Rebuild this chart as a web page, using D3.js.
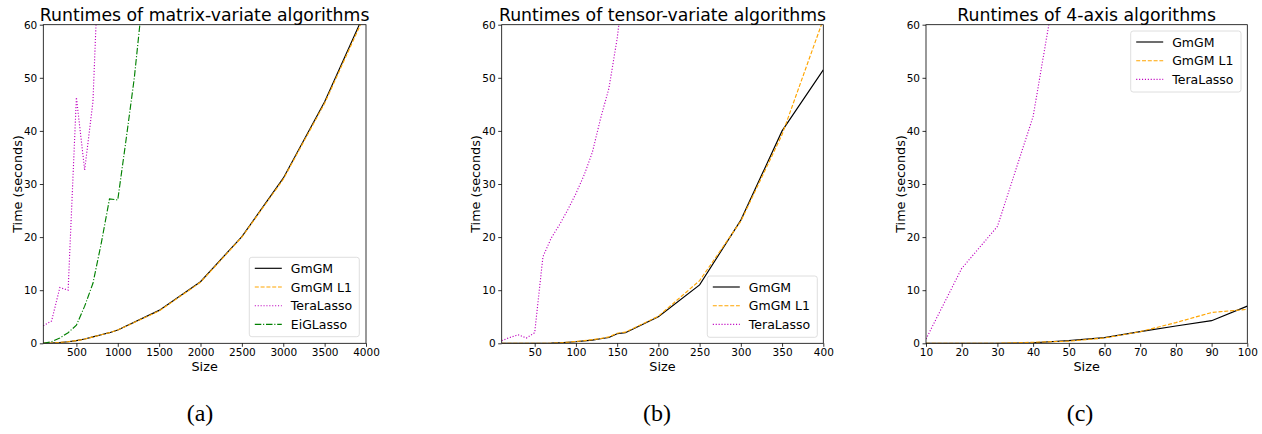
<!DOCTYPE html>
<html><head><meta charset="utf-8">
<script src="https://cdn.jsdelivr.net/npm/d3@7"></script>
<style>body{margin:0;background:#fff}svg{display:block}text{font-family:"DejaVu Sans",sans-serif}</style>
</head><body>
<svg id="c" width="1262" height="434"></svg>
<script>
// ---------- data ----------
const titles = ["Runtimes of matrix-variate algorithms","Runtimes of tensor-variate algorithms","Runtimes of 4-axis algorithms"];
const captions = ["(a)","(b)","(c)"];
const yTicks = [0,10,20,30,40,50,60];
const xTicksA = [500,1000,1500,2000,2500,3000,3500,4000];
const xTicksB = [50,100,150,200,250,300,350,400];
const xTicksC = [10,20,30,40,50,60,70,80,90,100];

// panel (a)
const aGmGMx = [100,200,300,400,500,600,700,800,900,1000,1500,2000,2500,3000,3500,4000];
const aGmGMy = [0,0.05,0.15,0.3,0.5,0.8,1.2,1.6,2.0,2.5,6.2,11.6,20.1,31.1,45.5,62.8];
const aL1y   = [0,0.05,0.15,0.3,0.5,0.8,1.2,1.6,2.0,2.5,6.1,11.5,20.0,30.9,45.2,62.3];
const aTeraX = [100,200,300,400,500,600,700,800];
const aTeraY = [3.3,4.2,10.5,10.0,46.3,32.6,45.5,85];
const aEigX  = [100,200,300,400,500,600,700,800,900,1000,1100,1200,1300];
const aEigY  = [0,0.3,1.0,2.0,3.4,7.0,11.3,18.8,27.2,27.0,38.3,50,65];

// panel (b)
const bX     = [10,20,30,40,50,60,70,80,90,100,110,120,130,140,150,160,200,250,300,350,400];
const bGmGMy = [0,0,0,0,0,0,0.02,0.1,0.2,0.3,0.45,0.6,0.85,1.1,1.8,2.0,5.0,11.0,23.2,40.0,51.5];
const bL1y   = [0,0,0,0,0,0,0.02,0.1,0.2,0.35,0.5,0.7,0.9,1.2,1.9,2.1,5.1,11.8,23.0,39.3,61.0];
const bTeraX = [10,20,30,40,50,60,70,80,90,100,110,120,130,140,150,160];
const bTeraY = [0.5,1.1,1.6,1.0,2.0,16.3,19.8,22.3,25.1,28.2,31.7,36.0,42.4,48.0,57.4,70];

// panel (c)
const cX     = [10,20,30,40,50,60,70,80,90,100];
const cGmGMy = [0,0,0,0.1,0.5,1.06,2.2,3.26,4.26,7.0];
const cL1y   = [0,0,0,0.2,0.4,1.0,2.2,3.9,5.8,6.4];
const cTeraX = [10,20,30,40,50];
const cTeraY = [0.8,14.1,22.0,42.7,82];

const names = ["GmGM","GmGM L1","TeraLasso","EiGLasso"];

// ---------- styles ----------
const styles = {
  "GmGM":{color:"#000000",dash:null},
  "GmGM L1":{color:"#ffa500",dash:"4,1.8"},
  "TeraLasso":{color:"#bf00bf",dash:"1.1,1.8"},
  "EiGLasso":{color:"#008000",dash:"6.5,1.8,1.1,1.8"}
};

const panels = [
  {x0:43.3,x1:366,dom:[100,4000],ticks:xTicksA,
   series:[["GmGM",aGmGMx,aGmGMy],["GmGM L1",aGmGMx,aL1y],["TeraLasso",aTeraX,aTeraY],["EiGLasso",aEigX,aEigY]],
   legend:{x:249.3,y:257.3,w:110,h:79.4,names:names}},
  {x0:501.7,x1:823.3,dom:[10,400],ticks:xTicksB,
   series:[["GmGM",bX,bGmGMy],["GmGM L1",bX,bL1y],["TeraLasso",bTeraX,bTeraY]],
   legend:{x:707.3,y:276,w:110,h:61.3,names:names.slice(0,3)}},
  {x0:926,x1:1247.3,dom:[10,100],ticks:xTicksC,
   series:[["GmGM",cX,cGmGMy],["GmGM L1",cX,cL1y],["TeraLasso",cTeraX,cTeraY]],
   legend:{x:1130.7,y:31,w:110.3,h:61,names:names.slice(0,3)}}
];
const yTop = 24.7, yBot = 343.3;
const svg = d3.select("#c");

panels.forEach((p,i)=>{
  const x = d3.scaleLinear().domain(p.dom).range([p.x0,p.x1]);
  const y = d3.scaleLinear().domain([0,60]).range([yBot,yTop]);
  const g = svg.append("g");
  const cid = "clip"+i;
  svg.append("clipPath").attr("id",cid).append("rect")
    .attr("x",p.x0).attr("y",yTop).attr("width",p.x1-p.x0).attr("height",yBot-yTop);

  const lg = g.append("g").attr("clip-path",`url(#${cid})`);
  p.series.forEach(([nm,xs,ys])=>{
    const pts = xs.map((v,k)=>[v,ys[k]]);
    lg.append("path").datum(pts)
      .attr("d",d3.line().x(d=>x(d[0])).y(d=>y(d[1])))
      .attr("fill","none").attr("stroke",styles[nm].color)
      .attr("stroke-width",1.15).attr("stroke-dasharray",styles[nm].dash);
  });

  // axes
  const xa = g.append("g").attr("transform",`translate(0,${yBot})`)
    .call(d3.axisBottom(x).tickValues(p.ticks).tickSize(3.5).tickPadding(2).tickFormat(d3.format("d")));
  const ya = g.append("g").attr("transform",`translate(${p.x0},0)`)
    .call(d3.axisLeft(y).tickValues(yTicks).tickSize(3.5).tickPadding(2.5));
  [xa,ya].forEach(a=>{
    a.select(".domain").remove();
    a.selectAll("text").style("font-family","DejaVu Sans").style("font-size","10.5px").attr("fill","#000");
    a.selectAll("line").attr("stroke","#000").attr("stroke-width",0.8);
  });
  g.append("rect").attr("x",p.x0).attr("y",yTop).attr("width",p.x1-p.x0).attr("height",yBot-yTop)
    .attr("fill","none").attr("stroke","#000").attr("stroke-width",0.8);

  // titles and labels
  const cx = (p.x0+p.x1)/2;
  g.append("text").attr("x",cx).attr("y",20.5).attr("text-anchor","middle")
    .style("font-size","17.3px").text(titles[i]);
  g.append("text").attr("x",cx).attr("y",371).attr("text-anchor","middle")
    .style("font-size","12.8px").text("Size");
  g.append("text").attr("transform",`translate(${p.x0-21.5},${(yTop+yBot)/2}) rotate(-90)`)
    .attr("text-anchor","middle").style("font-size","12.8px").text("Time (seconds)");
  g.append("text").attr("x",[200,657,1080][i]).attr("y",421).attr("text-anchor","middle")
    .style("font-family","'Liberation Serif',serif").style("font-size","24px").text(captions[i]);

  // legend
  const L = p.legend;
  const lgd = g.append("g");
  lgd.append("rect").attr("x",L.x).attr("y",L.y).attr("width",L.w).attr("height",L.h)
    .attr("rx",2.5).attr("fill","#fff").attr("fill-opacity",0.8).attr("stroke","#d6d6d6").attr("stroke-width",0.8);
  L.names.forEach((nm,k)=>{
    const yy = L.y + 11 + k*18.7;
    lgd.append("line").attr("x1",L.x+5.5).attr("x2",L.x+32.5).attr("y1",yy).attr("y2",yy)
      .attr("stroke",styles[nm].color).attr("stroke-width",1.15).attr("stroke-dasharray",styles[nm].dash);
    lgd.append("text").attr("x",L.x+41.5).attr("y",yy+4.5).style("font-size","12.5px").text(nm);
  });
});
</script>
</body></html>
